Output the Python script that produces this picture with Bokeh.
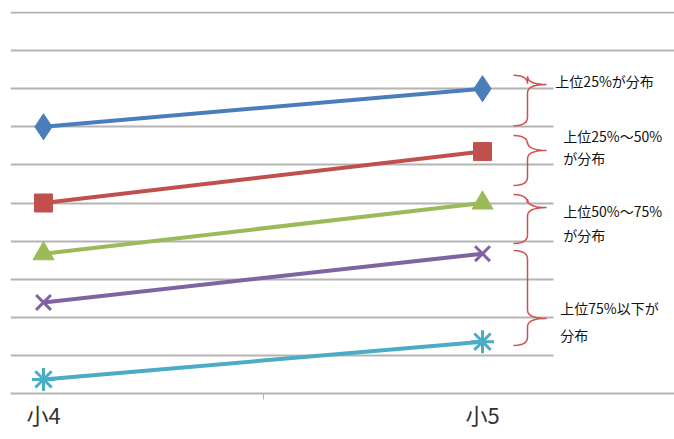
from bokeh.plotting import figure
from bokeh.models import FixedTicker, BoxAnnotation, Label, Range1d
from bokeh.embed import file_html
from bokeh.resources import INLINE
import numpy as np

# ---- data ----
categories = ["小4", "小5"]
cat_pos = [0, 1]
top25 = [7.0, 8.0]
top25_50 = [5.0, 6.35]
top50_75 = [3.67, 5.0]
top75_80 = [2.39, 3.67]
bottom = [0.37, 1.36]

series_values = [top25, top25_50, top50_75, top75_80, bottom]
series_colors = ["#4a7ebb", "#c0504d", "#9bbb59", "#8064a2", "#4bacc6"]
series_markers = ["diamond", "square", "triangle", "x", "asterisk"]
series_sizes = [26, 18, 21, 21, 23]

grid_ticks = list(range(0, 11))

# braces (top, tip, bottom) in value units
brace_top = [8.35, 6.77, 5.22, 3.75]
brace_tip = [8.11, 6.38, 4.88, 1.97]
brace_bot = [7.03, 5.46, 3.94, 1.26]

brace_labels = [["上位25%が分布"],
                ["上位25%～50%", "が分布"],
                ["上位50%～75%", "が分布"],
                ["上位75%以下が", "分布"]]
label_x = [1.166, 1.184, 1.184, 1.177]
label_y = [[8.2], [6.77, 6.17], [4.78, 4.15], [2.24, 1.53]]

# ---- figure ----
W, H = 674, 439
p = figure(width=W, height=H, output_backend="svg", toolbar_location=None,
           min_border_left=10, min_border_right=0, min_border_top=11,
           min_border_bottom=46)
p.outline_line_color = None
x0 = -33 / 439
p.x_range = Range1d(x0, x0 + 664 / 439)
p.y_range = Range1d(0, 10 + 1 / 38.1)

p.yaxis.visible = False
p.ygrid.ticker = FixedTicker(ticks=grid_ticks)
p.ygrid.grid_line_color = "#b4b4b4"
p.ygrid.grid_line_width = 2
p.xgrid.visible = False

p.xaxis.ticker = FixedTicker(ticks=cat_pos, minor_ticks=[0.5])
p.xaxis.major_label_overrides = {c: n for c, n in zip(cat_pos, categories)}
p.xaxis.axis_line_color = "#b4b4b4"
p.xaxis.axis_line_width = 2
p.xaxis.major_tick_out = 0
p.xaxis.major_tick_in = 0
p.xaxis.minor_tick_out = 6
p.xaxis.minor_tick_in = 0
p.xaxis.minor_tick_line_color = "#b4b4b4"
p.xaxis.minor_tick_line_width = 1
p.xaxis.major_label_text_font = "Noto Sans CJK JP"
p.xaxis.major_label_text_font_size = "22px"
p.xaxis.major_label_text_color = "#333333"
p.xaxis.major_label_standoff = -2

# cover gridlines right of the annotation area (pasted image in original)
p.add_layout(BoxAnnotation(left=(553 - 43) / 439, bottom=0.5, top=8.5,
                           fill_color="white", fill_alpha=1.0, line_color=None,
                           level="underlay"))

for vals, col, mk, sz in zip(series_values, series_colors, series_markers, series_sizes):
    p.line(cat_pos, vals, line_color=col, line_width=4)
    p.scatter(cat_pos, vals, marker=mk, size=sz, fill_color=col,
              line_color=col, line_width=3 if mk in ("x", "asterisk") else 1)


def quad(p0, c, p1, n=8):
    t = np.linspace(0, 1, n)
    x = (1 - t) ** 2 * p0[0] + 2 * (1 - t) * t * c[0] + t ** 2 * p1[0]
    y = (1 - t) ** 2 * p0[1] + 2 * (1 - t) * t * c[1] + t ** 2 * p1[1]
    return list(x), list(y)


xl, xv, xt = (513 - 43) / 439, (527 - 43) / 439, (546 - 43) / 439
r = 0.22
for t, m, b in zip(brace_top, brace_tip, brace_bot):
    xs, ys = [], []
    for seg in [quad((xl, t), (xv, t), (xv, t - r)),
                quad((xv, m + r), (xv, m), (xt, m)),
                quad((xt, m), (xv, m), (xv, m - r)),
                quad((xv, b + r), (xv, b), (xl, b))]:
        xs += seg[0]
        ys += seg[1]
    p.line(xs, ys, line_color="#d0504c", line_width=1.5)

for lines, lx, lys in zip(brace_labels, label_x, label_y):
    for txt, ly in zip(lines, lys):
        p.add_layout(Label(x=lx, y=ly, text=txt, text_font="Noto Sans CJK JP",
                           text_font_size="14px", text_baseline="middle",
                           text_color="#111111"))

open("out.html", "w").write(file_html(p, INLINE))
